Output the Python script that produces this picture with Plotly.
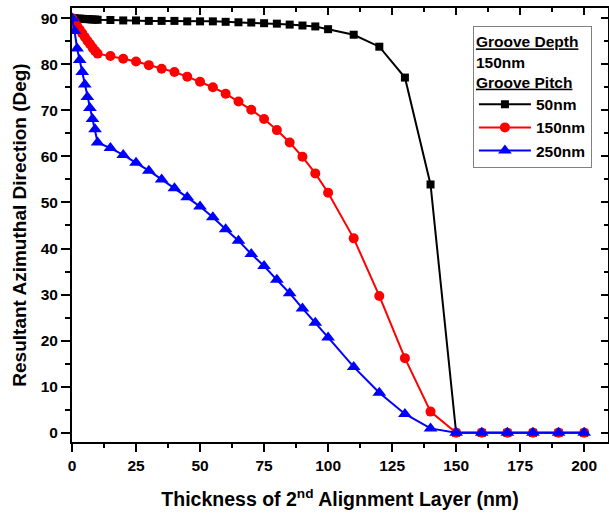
import plotly.graph_objects as go

# Thickness of 2nd alignment layer (nm)
x_dense = [0, 1, 2, 3, 4, 5, 6, 7, 8, 9, 10]
x_mid = [15, 20, 25, 30, 35, 40, 45, 50, 55, 60, 65, 70, 75, 80, 85, 90, 95, 100]
x_tail = [110, 120, 130, 140, 150, 160, 170, 180, 190, 200]
thickness = x_dense + x_mid + x_tail

# Resultant azimuthal direction (deg)
pitch_50 = [90.0, 89.95, 89.9, 89.9, 89.85, 89.8, 89.8, 89.75, 89.7, 89.7, 89.65,
            89.6, 89.5, 89.5, 89.4, 89.4, 89.4, 89.3, 89.3, 89.3, 89.2, 89.1, 89.05,
            88.9, 88.8, 88.6, 88.4, 88.2, 87.6,
            86.4, 83.8, 77.1, 53.9, 0, 0, 0, 0, 0, 0]
pitch_150 = [90.0, 89.1, 88.3, 87.5, 86.7, 85.9, 85.1, 84.4, 83.6, 82.9, 82.3,
             81.8, 81.2, 80.6, 79.8, 79.0, 78.3, 77.3, 76.2, 75.0, 73.6, 71.9, 70.1,
             68.1, 65.7, 63.0, 59.9, 56.3, 52.1,
             42.2, 29.7, 16.2, 4.6, 0, 0, 0, 0, 0, 0]
pitch_250 = [90.0, 87.2, 83.4, 80.9, 78.3, 75.6, 72.9, 70.5, 68.1, 65.9, 63.0,
             61.8, 60.3, 58.6, 56.9, 55.0, 53.1, 51.1, 49.1, 46.8, 44.2, 41.7, 38.8,
             36.2, 33.2, 30.3, 27.0, 23.9, 20.7,
             14.3, 8.7, 4.1, 0.95, 0, 0, 0, 0, 0, 0]

series_names = ["50nm", "150nm", "250nm"]
x_ticks = [0, 25, 50, 75, 100, 125, 150, 175, 200]
y_ticks = [0, 10, 20, 30, 40, 50, 60, 70, 80, 90]

FONT = "Arial, Liberation Sans, sans-serif"

fig = go.Figure()
fig.add_trace(go.Scatter(x=thickness, y=pitch_50, name="<b>" + series_names[0] + "</b>",
                         mode="lines+markers",
                         line=dict(color="#000000", width=2),
                         marker=dict(symbol="square", size=8, color="#000000")))
fig.add_trace(go.Scatter(x=thickness, y=pitch_150, name="<b>" + series_names[1] + "</b>",
                         mode="lines+markers",
                         line=dict(color="#FF0000", width=2),
                         marker=dict(symbol="circle", size=10, color="#FF0000")))
fig.add_trace(go.Scatter(x=thickness, y=pitch_250, name="<b>" + series_names[2] + "</b>",
                         mode="lines+markers",
                         line=dict(color="#0000FF", width=2),
                         marker=dict(symbol="triangle-up", size=12, color="#0000FF")))

xr = [0, 209.3]
yr = [-2, 92.2]

fig.update_layout(
    width=609, height=516,
    margin=dict(l=72, r=1, t=8, b=74),
    paper_bgcolor="white", plot_bgcolor="white",
    font=dict(family=FONT, size=15, color="black"),
    showlegend=True,
    legend=dict(
        x=0.748, y=0.958, xanchor="left", yanchor="top",
        bgcolor="white", bordercolor="#808080", borderwidth=1,
        font=dict(family=FONT, size=15.5, color="black"),
        title=dict(text="<b><u>Groove Depth</u><br>150nm<br><u>Groove Pitch</u></b>",
                   font=dict(family=FONT, size=15.5, color="black")),
        itemwidth=52, tracegroupgap=0,
    ),
    xaxis=dict(
        range=xr, tickmode="array", tickvals=x_ticks,
        ticktext=["<b>%d</b>" % v for v in x_ticks],
        ticks="outside", ticklen=8, tickwidth=2, tickcolor="black",
        minor=dict(dtick=12.5, tick0=0, ticks="outside", ticklen=4, tickwidth=2, tickcolor="black"),
        showline=True, linewidth=2, linecolor="black",
        showgrid=False, zeroline=False,
        tickfont=dict(family=FONT, size=15.5),
        title=dict(text="<b>Thickness of 2<sup>nd</sup> Alignment Layer (nm)</b>",
                   font=dict(family=FONT, size=19.5), standoff=20),
    ),
    yaxis=dict(
        range=yr, tickmode="array", tickvals=y_ticks,
        ticktext=["<b>%d</b>" % v for v in y_ticks],
        ticks="outside", ticklen=9, tickwidth=2, tickcolor="black",
        minor=dict(dtick=5, tick0=0, ticks="outside", ticklen=5, tickwidth=2, tickcolor="black"),
        showline=True, linewidth=2, linecolor="black",
        showgrid=False, zeroline=False,
        tickfont=dict(family=FONT, size=15.5),
        title=dict(text="<b>Resultant Azimuthal Direction (Deg)</b>",
                   font=dict(family=FONT, size=19), standoff=9),
    ),
    xaxis2=dict(
        range=xr, overlaying="x", side="top", tickmode="array", tickvals=x_ticks,
        showticklabels=False, ticks="inside", ticklen=7, tickwidth=2, tickcolor="black",
        minor=dict(dtick=12.5, tick0=0, ticks="inside", ticklen=4, tickwidth=2, tickcolor="black"),
        showline=True, linewidth=2, linecolor="black", showgrid=False, zeroline=False,
        matches="x",
    ),
    yaxis2=dict(
        range=yr, overlaying="y", side="right", tickmode="array", tickvals=y_ticks,
        showticklabels=False, ticks="inside", ticklen=7, tickwidth=2, tickcolor="black",
        minor=dict(dtick=5, tick0=0, ticks="inside", ticklen=4, tickwidth=2, tickcolor="black"),
        showline=True, linewidth=2, linecolor="black", showgrid=False, zeroline=False,
        matches="y",
    ),
)

# invisible trace to activate the mirrored axes
fig.add_trace(go.Scatter(x=[xr[0]], y=[yr[0]], xaxis="x2", yaxis="y2", mode="markers",
                         marker=dict(opacity=0), showlegend=False, hoverinfo="skip"))

fig.write_html("out.html")
